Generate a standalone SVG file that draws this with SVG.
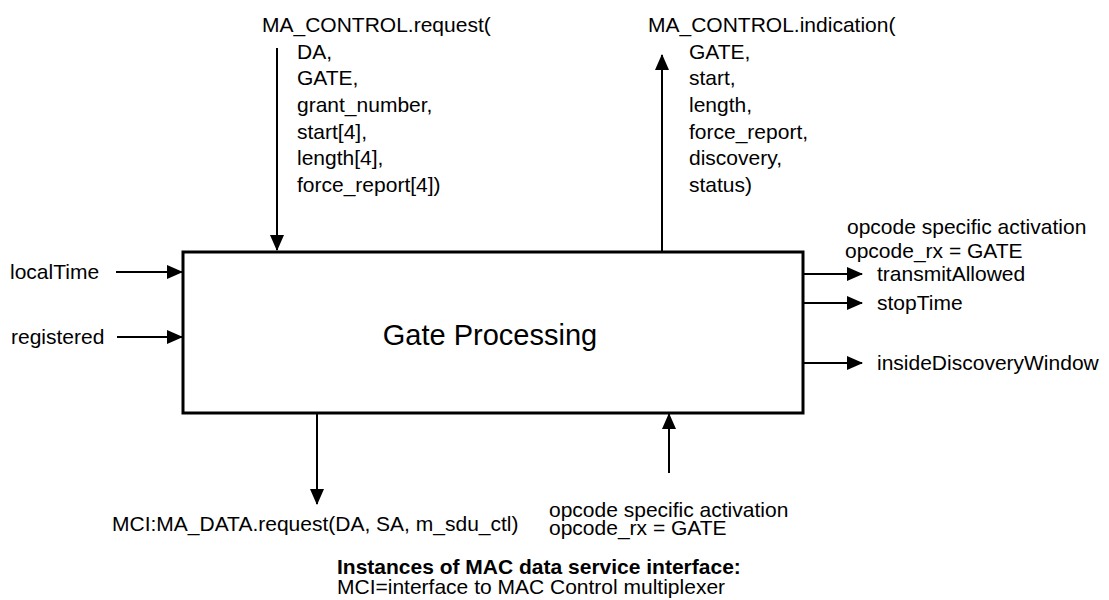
<svg xmlns="http://www.w3.org/2000/svg" width="1109" height="600" viewBox="0 0 1109 600">
<defs>
<style>
text{font-family:"Liberation Sans",Arial,Helvetica,sans-serif;font-size:21px;fill:#000}
.big{font-size:29px}
.b{font-weight:bold}
.ln{stroke:#000;stroke-width:2;fill:none}
.box{stroke:#000;stroke-width:3;fill:#fff}
</style>
<marker id="ah" markerWidth="16" markerHeight="14" refX="15" refY="7" orient="auto" markerUnits="userSpaceOnUse"><path d="M0,0 L16,7 L0,14 z" fill="#000"/></marker>
</defs>
<rect width="1109" height="600" fill="#fff"/>
<g id="gate-processing">
<rect class="box" x="183" y="252" width="620" height="161"/>
<text class="big" x="490" y="345" text-anchor="middle">Gate Processing</text>
</g>
<g id="connectors">
<line class="ln" x1="277" y1="48" x2="277" y2="250" marker-end="url(#ah)"/>
<line class="ln" x1="662" y1="251" x2="662" y2="55" marker-end="url(#ah)"/>
<line class="ln" x1="116" y1="272" x2="182" y2="272" marker-end="url(#ah)"/>
<line class="ln" x1="117" y1="337" x2="182" y2="337" marker-end="url(#ah)"/>
<line class="ln" x1="804" y1="274" x2="862" y2="274" marker-end="url(#ah)"/>
<line class="ln" x1="804" y1="303" x2="862" y2="303" marker-end="url(#ah)"/>
<line class="ln" x1="804" y1="363" x2="862" y2="363" marker-end="url(#ah)"/>
<line class="ln" x1="317" y1="414" x2="317" y2="504" marker-end="url(#ah)"/>
<line class="ln" x1="669" y1="473" x2="669" y2="414" marker-end="url(#ah)"/>
</g>
<g id="ma-control-request">
<text x="262" y="32">MA_CONTROL.request(</text>
<text x="297" y="59">DA,</text>
<text x="297" y="85">GATE,</text>
<text x="297" y="112">grant_number,</text>
<text x="297" y="139">start[4],</text>
<text x="297" y="165">length[4],</text>
<text x="297" y="192">force_report[4])</text>
</g>
<g id="ma-control-indication">
<text x="648" y="32">MA_CONTROL.indication(</text>
<text x="689" y="59">GATE,</text>
<text x="689" y="85">start,</text>
<text x="689" y="112">length,</text>
<text x="689" y="139">force_report,</text>
<text x="689" y="165">discovery,</text>
<text x="689" y="192">status)</text>
</g>
<g id="inputs">
<text x="10" y="279">localTime</text>
<text x="11" y="344">registered</text>
</g>
<g id="outputs">
<text x="847" y="234">opcode specific activation</text>
<text x="845" y="258">opcode_rx = GATE</text>
<text x="877" y="281">transmitAllowed</text>
<text x="877" y="310">stopTime</text>
<text x="877" y="370">insideDiscoveryWindow</text>
</g>
<g id="ma-data-request">
<text x="112" y="531">MCI:MA_DATA.request(DA, SA, m_sdu_ctl)</text>
</g>
<g id="opcode-activation">
<text x="549" y="517">opcode specific activation</text>
<text x="549" y="535">opcode_rx = GATE</text>
</g>
<g id="legend">
<text class="b" x="337" y="574">Instances of MAC data service interface:</text>
<text x="337" y="594">MCI=interface to MAC Control multiplexer</text>
</g>
</svg>
